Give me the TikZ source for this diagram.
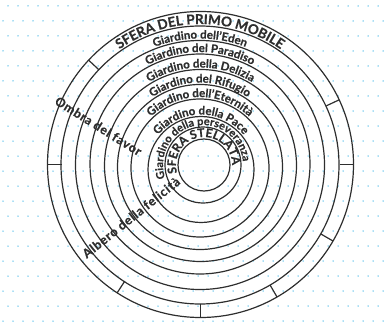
\documentclass[tikz,border=0pt]{standalone}
\usepackage{fontspec}
\setmainfont{Lato}[FakeBold=0.6]
\usetikzlibrary{decorations.text}
\definecolor{ink}{HTML}{2E2E2E}
\definecolor{speck}{RGB}{80,190,235}
\begin{document}
\begin{tikzpicture}[x=1pt, y=1pt, line width=1.2pt,
  ring/.style={draw=ink},
  ringtext/.style={decorate, decoration={text along path, text align=center, text color=ink, text={#1}}},
  radial/.style={text=ink, inner sep=0pt, font=\fontsize{12.5}{12}\selectfont\bfseries\addfontfeatures{LetterSpace=6}}]
  \useasboundingbox (0,0) rectangle (387,327);
  \foreach \j in {0,...,21}
    \foreach \i in {0,...,38}
      \fill[speck] ({\i*10+mod(\j,2)*5+3},{\j*15+6}) circle (0.75);
  \coordinate (c1) at (200.5,162.5);
  \coordinate (c2) at (200,162);
  \coordinate (c3) at (200,162);
  \coordinate (c4) at (200,163);
  \coordinate (c5) at (200.5,161.5);
  \coordinate (c6) at (200,160);
  \coordinate (c7) at (200,159);
  \coordinate (c8) at (201,157.5);
  \coordinate (c9) at (203,162);
  \coordinate (c10) at (204,162);
  \draw[ring] (c1) circle (153);
  \draw[ring] (c2) circle (139);
  \draw[ring] (c3) circle (124.5);
  \draw[ring] (c4) circle (110);
  \draw[ring] (c5) circle (96);
  \draw[ring] (c6) circle (82.5);
  \draw[ring] (c7) circle (69);
  \draw[ring] (c8) circle (53);
  \draw[ring] (c9) circle (38);
  \draw[ring] (c10) circle (26);
  \foreach \a in {137,180,25,0,-30,-60,-90,-123}
    \draw[ring] (c1) +(\a:139) -- +(\a:153);
  \path[ringtext={|\fontsize{13.5}{13}\selectfont\bfseries|SFERA DEL PRIMO MOBILE}] (c2) ++(180:141) arc[start angle=180, end angle=0, radius=141];
  \path[ringtext={|\fontsize{11.5}{11}\selectfont\bfseries|Giardino dell'Eden}] (c3) ++(180:126.5) arc[start angle=180, end angle=0, radius=126.5];
  \path[ringtext={|\fontsize{11.5}{11}\selectfont\bfseries|Giardino del Paradiso}] (c4) ++(180:112) arc[start angle=180, end angle=0, radius=112];
  \path[ringtext={|\fontsize{11.5}{11}\selectfont\bfseries|Giardino della Delizia}] (c5) ++(180:98) arc[start angle=180, end angle=0, radius=98];
  \path[ringtext={|\fontsize{11.5}{11}\selectfont\bfseries|Giardino del Rifugio}] (c6) ++(180:84.5) arc[start angle=180, end angle=0, radius=84.5];
  \path[ringtext={|\fontsize{11.5}{11}\selectfont\bfseries|Giardino dell'Eternità}] (c7) ++(180:71) arc[start angle=180, end angle=0, radius=71];
  \path[ringtext={|\fontsize{11.5}{11}\selectfont\bfseries|Giardino della Pace}] (c8) ++(180:55) arc[start angle=180, end angle=0, radius=55];
  \path[ringtext={|\fontsize{11}{11}\selectfont\bfseries|Giardino della perseveranza}] (c9) ++(232:40) arc[start angle=232, end angle=-28, radius=40];
  \path[ringtext={|\fontsize{12}{12}\selectfont\bfseries|SFERA STELLATA}] (c10) ++(235:28) arc[start angle=235, end angle=-39, radius=28];
  \node[radial, rotate=-32] (ombra) at (98.5,201) {Ombra del favor};
  \node[radial, rotate=38.7] (albero) at (131,109.5) {Albero della felicità};
\end{tikzpicture}
\end{document}
